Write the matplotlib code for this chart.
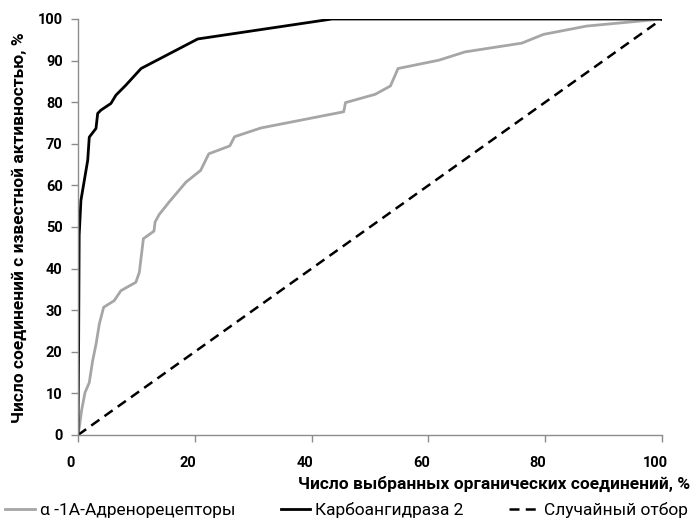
import matplotlib
matplotlib.use("Agg")
import matplotlib.pyplot as plt
import matplotlib.transforms as mtransforms

# Data (percent)
alpha_x = [0, 0.22, 0.6, 1.2, 1.93, 2.5, 3.1, 3.65, 4.39, 6.2, 7.35, 9.9, 10.5, 11.2,
           13.0, 13.2, 13.9, 15.6, 18.5, 21.0, 22.4, 26.0, 26.8, 31.3, 45.5, 45.8,
           50.9, 53.5, 54.8, 61.8, 66.3, 76.0, 79.7, 87.1, 100]
alpha_y = [0, 1.8, 5.8, 10.2, 12.6, 17.8, 21.9, 26.7, 30.7, 32.3, 34.7, 36.7, 39.1, 47.2,
           49.0, 51.2, 53.0, 56.0, 60.8, 63.6, 67.6, 69.5, 71.7, 73.8, 77.7, 79.9,
           81.9, 83.9, 88.1, 90.1, 92.1, 94.2, 96.3, 98.3, 100]

ca_x = [0, 0.1, 0.2, 0.5, 1.08, 1.66, 1.93, 3.08, 3.37, 3.93, 5.64, 6.5, 8.2, 10.8,
        20.5, 43.5, 100]
ca_y = [0, 20, 48, 56.4, 61.2, 66.0, 71.6, 73.7, 77.3, 78.1, 79.7, 81.7, 84.1, 88.1,
        95.2, 100, 100]

rand_x = [0, 100]
rand_y = [0, 100]

labels = ["α -1А-Адренорецепторы", "Карбоангидраза 2", "Случайный отбор"]
xlabel = "Число выбранных органических соединений, %"
ylabel = "Число соединений с известной активностью, %"
xticks = [0, 20, 40, 60, 80, 100]
yticks = list(range(0, 101, 10))

plt.rcParams['font.family'] = ['Roboto', 'DejaVu Sans']

fig = plt.figure(figsize=(6.93, 5.30), dpi=100)
ax = fig.add_axes([78/693, 1-435/530, (662-78)/693, (435-19)/530])

lg, = ax.plot(alpha_x, alpha_y, color='#a6a6a6', lw=2.0, label=labels[0])
lb, = ax.plot(ca_x, ca_y, color='black', lw=2.0, label=labels[1])
ld, = ax.plot(rand_x, rand_y, color='black', lw=1.8, label=labels[2])
ld.set_dashes((4, 2.5))

ax.set_xlim(0, 100)
ax.set_ylim(0, 100)
ax.set_xticks(xticks)
ax.set_yticks(yticks)
for s in ['top', 'right']:
    ax.spines[s].set_visible(False)
for s in ['left', 'bottom']:
    ax.spines[s].set_color('#8c8c8c')
    ax.spines[s].set_linewidth(1.0)
ax.tick_params(direction='out', length=5, width=1.0, color='#8c8c8c',
               labelsize=10.5)
ax.tick_params(axis='x', pad=10)
ax.tick_params(axis='y', pad=6)
shift = mtransforms.ScaledTranslation(-7/100, 0, fig.dpi_scale_trans)
for t in ax.get_xticklabels():
    t.set_fontweight('bold')
    t.set_transform(t.get_transform() + shift)
for t in ax.get_yticklabels():
    t.set_fontweight('bold')

fig.text(690/693, 1-484/530, xlabel, ha='right', va='center', fontsize=12.5,
         fontweight='bold')
fig.text(19/693, 1-228/530, ylabel, ha='center', va='center', rotation=90,
         fontsize=12.5, fontweight='bold')

leg = fig.legend(handles=[lg, lb, ld], loc='center', bbox_to_anchor=(0.5, 1-510/530),
                 ncol=3, frameon=False, fontsize=12.5, handlelength=1.7,
                 handletextpad=0.3, columnspacing=2.6)

fig.savefig('out.png', dpi=100)
